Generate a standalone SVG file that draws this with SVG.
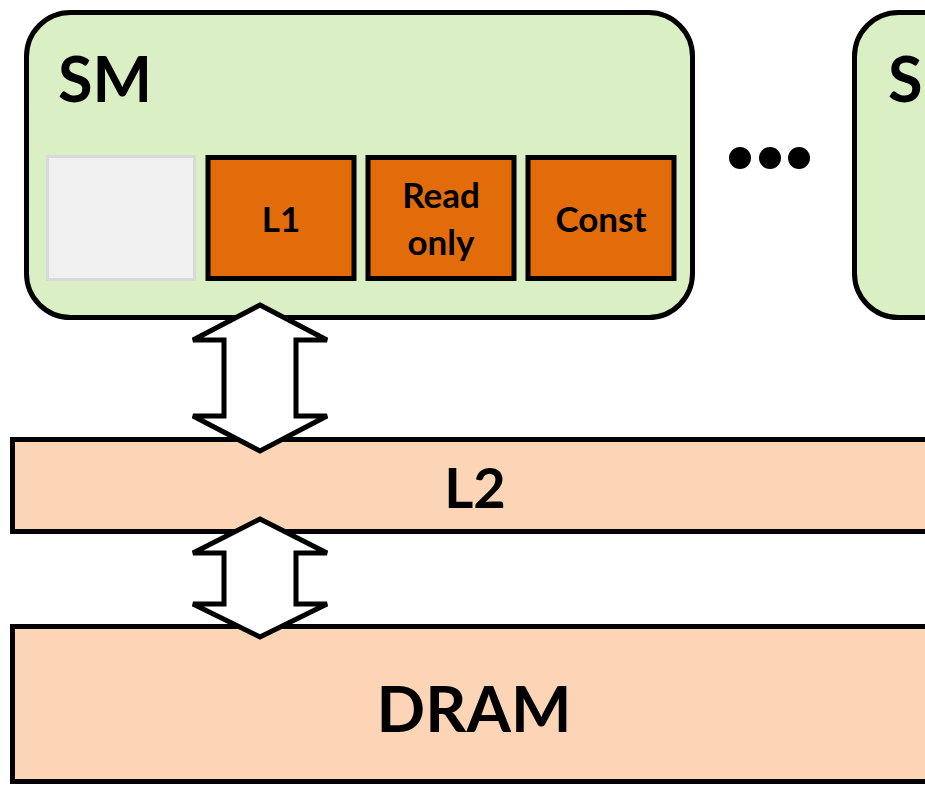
<svg xmlns="http://www.w3.org/2000/svg" width="925" height="785" viewBox="0 0 925 785">
<style>
.sm{fill:#dbefc4;stroke:#000;stroke-width:5}
.unit{fill:#e36c0a;stroke:#000;stroke-width:5}
.band{fill:#fbd5b5;stroke:#000;stroke-width:5}
.arrow{fill:#fff;stroke:#000;stroke-width:5;stroke-linejoin:miter}
.t{font-family:Lato,"Liberation Sans",sans-serif;font-weight:bold;fill:#000;text-anchor:middle}
.ts{text-anchor:start}
</style>
<rect width="925" height="785" fill="#fff"/>
<g id="sm1">
<rect class="sm" x="26.5" y="12.5" width="666" height="305" rx="44"/>
<text class="t ts" x="58" y="102" font-size="63">SM</text>
</g>
<g id="shared">
<rect x="47.5" y="156.5" width="147" height="123" fill="#f0f0f0" stroke="#d9d9d9" stroke-width="3"/>
</g>
<g id="l1">
<rect class="unit" x="208" y="157.5" width="146" height="121"/>
<text class="t" x="281" y="232" font-size="35">L1</text>
</g>
<g id="readonly">
<rect class="unit" x="368" y="157.5" width="146" height="121"/>
<text class="t" x="441" y="208" font-size="35">Read</text>
<text class="t" x="441" y="255" font-size="35">only</text>
</g>
<g id="const">
<rect class="unit" x="528" y="157.5" width="146" height="121"/>
<text class="t" x="601" y="232" font-size="35">Const</text>
</g>
<g id="dots">
<circle cx="740" cy="158" r="11"/>
<circle cx="770" cy="158" r="11"/>
<circle cx="799" cy="158" r="11"/>
</g>
<g id="sm2">
<rect class="sm" x="854.5" y="12.5" width="200" height="305" rx="44"/>
<text class="t ts" x="888" y="102" font-size="63">S</text>
</g>
<g id="l2">
<rect class="band" x="12.5" y="439.5" width="940" height="92"/>
<text class="t" x="475" y="508" font-size="56">L2</text>
</g>
<g id="dram">
<rect class="band" x="12.5" y="626.5" width="940" height="155"/>
<text class="t" x="474" y="732" font-size="64">DRAM</text>
</g>
<g id="connectors">
<polygon class="arrow" points="260,305 327,340 296,340 296,416 327,416 260,451 193,416 224,416 224,340 193,340"/>
<polygon class="arrow" points="260,519 327,553 296,553 296,604 327,604 260,637 193,604 224,604 224,553 193,553"/>
</g>
</svg>
